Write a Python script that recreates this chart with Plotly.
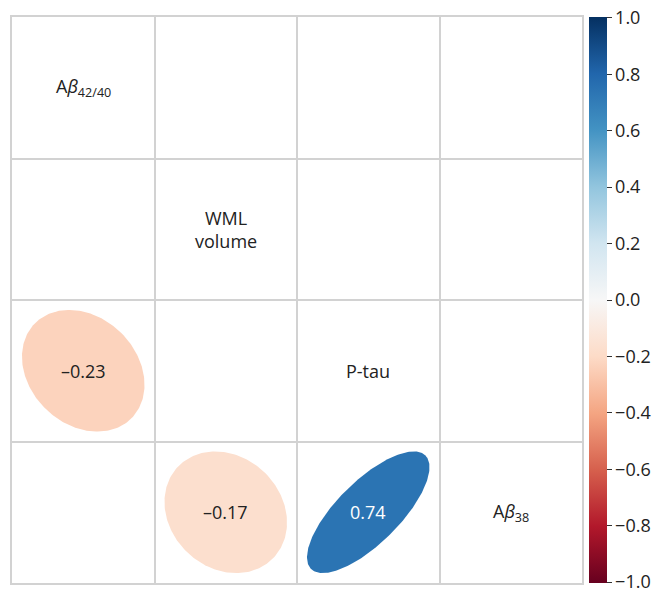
import numpy as np
import plotly.graph_objects as go
from plotly.colors import sample_colorscale

# ---- data ----
labels = ["A<i>β</i><sub>42/40</sub>", "WML<br>volume", "P-tau", "A<i>β</i><sub>38</sub>"]
pair_rows = [2, 3, 3]          # row index (0 = top)
pair_cols = [0, 1, 2]          # column index (0 = left)
pair_r = [-0.23, -0.17, 0.74]  # correlation coefficients
cbar_ticks = [-1.0, -0.8, -0.6, -0.4, -0.2, 0.0, 0.2, 0.4, 0.6, 0.8, 1.0]

rdbu = ["#67001f", "#b2182b", "#d6604d", "#f4a582", "#fddbc7", "#f7f7f7",
        "#d1e5f0", "#92c5de", "#4393c3", "#2166ac", "#053061"]
cscale = [[i / (len(rdbu) - 1), c] for i, c in enumerate(rdbu)]

n = len(labels)
fig = go.Figure()

s = 0.43
t = np.linspace(0, 2 * np.pi, 240)
for row, col, r in zip(pair_rows, pair_cols, pair_r):
    a = s * np.sqrt(1 + r)
    b = s * np.sqrt(1 - r)
    u = a * np.cos(t)
    v = b * np.sin(t)
    dx = (u - v) / np.sqrt(2)
    dy_up = (u + v) / np.sqrt(2)
    cx, cy = col + 0.5, row + 0.5
    color = sample_colorscale(cscale, [(r + 1) / 2])[0]
    fig.add_trace(go.Scatter(x=cx + dx, y=cy - dy_up, mode="lines", fill="toself",
                             fillcolor=color, line=dict(width=0, color=color),
                             hoverinfo="skip", showlegend=False))
    fig.add_annotation(x=cx, y=cy, text=f"{r:.2f}".replace("-", "\u2013"), showarrow=False,
                       font=dict(size=18, color="white" if abs(r) > 0.5 else "#222"))

for i, lab in enumerate(labels):
    fig.add_annotation(x=i + 0.5, y=i + 0.5, text=lab, showarrow=False,
                       font=dict(size=18, color="#222"))

# colorbar carrier
fig.add_trace(go.Scatter(x=[0.5, 0.5], y=[0.5, 0.5], mode="markers",
                         marker=dict(size=0.1, opacity=0, color=[-1, 1], cmin=-1.003, cmax=1.003,
                                     colorscale=cscale, showscale=True,
                                     colorbar=dict(x=1.0, xref="paper", xanchor="left", xpad=7,
                                                   ypad=0, len=1.0, lenmode="fraction",
                                                   thickness=18, outlinewidth=0,
                                                   tickvals=cbar_ticks, tickformat=".1f",
                                                   ticklabeloverflow="allow",
                                                   ticks="outside", ticklen=5, tickcolor="#333",
                                                   tickfont=dict(size=18, color="#222"))),
                         hoverinfo="skip", showlegend=False))

axis = dict(range=[0, n], showticklabels=False, ticks="", zeroline=False,
            showgrid=True, dtick=1, tick0=0, gridcolor="#d2d2d2", gridwidth=1.5,
            showline=True, linecolor="#d2d2d2", linewidth=1.5, mirror=True, fixedrange=True)
fig.update_layout(
    width=652, height=592,
    margin=dict(l=12, r=70, t=17, b=9, autoexpand=False),
    plot_bgcolor="white", paper_bgcolor="white",
    font=dict(family="Open Sans", size=18, color="#222"),
    xaxis=axis,
    yaxis=dict(axis, range=[n, 0]),
)
fig.write_html("out.html", config={"displayModeBar": False},
               post_script="document.body.style.margin='0px';document.body.style.overflow='hidden';")
